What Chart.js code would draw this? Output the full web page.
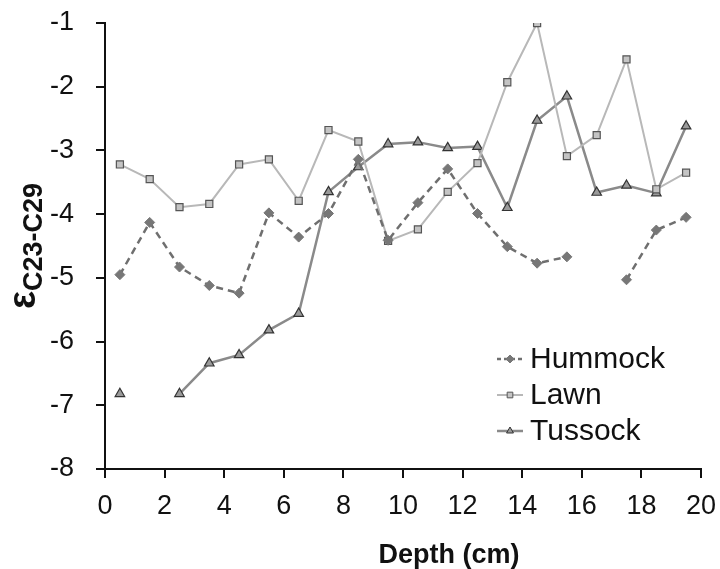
<!DOCTYPE html>
<html>
<head>
<meta charset="utf-8">
<script src="https://cdn.jsdelivr.net/npm/chart.js@4.4.0/dist/chart.umd.min.js"></script>
<style>
  body { margin: 0; background: #fff; }
  #wrap { width: 720px; height: 569px; }
</style>
</head>
<body>
<div id="wrap"><canvas id="myChart" width="720" height="569"></canvas></div>
<script>
// depth (cm) of each sample
const depth = [0.5, 1.5, 2.5, 3.5, 4.5, 5.5, 6.5, 7.5, 8.5, 9.5, 10.5, 11.5, 12.5, 13.5, 14.5, 15.5, 16.5, 17.5, 18.5, 19.5]
const hummock = [-4.95, -4.13, -4.83, -5.12, -5.24, -3.98, -4.36, -3.99, -3.14, -4.41, -3.82, -3.29, -3.99, -4.51, -4.77, -4.67, null, -5.03, -4.25, -4.05]
const lawn = [-3.22, -3.45, -3.89, -3.84, -3.22, -3.14, -3.79, -2.68, -2.86, -4.42, -4.24, -3.65, -3.20, -1.93, -1.00, -3.09, -2.76, -1.57, -3.61, -3.35]
const tussock = [-6.82, null, -6.82, -6.34, -6.21, -5.82, -5.56, -3.65, -3.26, -2.90, -2.87, -2.96, -2.94, -3.90, -2.53, -2.15, -3.66, -3.55, -3.67, -2.62]
const seriesNames = ['Hummock', 'Lawn', 'Tussock']
const xTitle = 'Depth (cm)'
const yTitleMain = 'ε'
const yTitleSub = 'C23-C29'

const font = '"Liberation Sans", Arial, Helvetica, sans-serif'

const toPoints = (vals) => depth.map((d, i) => ({ x: d, y: vals[i] }))

const datasets = [
  {
    label: seriesNames[0],
    data: toPoints(hummock),
    borderColor: '#6f6f6f',
    borderWidth: 2.5,
    borderDash: [7, 5],
    pointStyle: 'rectRot',
    pointRadius: 5,
    pointBackgroundColor: '#777777',
    pointBorderColor: '#777777',
    pointBorderWidth: 1
  },
  {
    label: seriesNames[1],
    data: toPoints(lawn),
    borderColor: '#b8b8b8',
    borderWidth: 2,
    pointStyle: 'rect',
    pointRadius: 5,
    pointBackgroundColor: '#c4c4c4',
    pointBorderColor: '#555555',
    pointBorderWidth: 1.2
  },
  {
    label: seriesNames[2],
    data: toPoints(tussock),
    borderColor: '#8a8a8a',
    borderWidth: 2.5,
    pointStyle: 'triangle',
    pointRadius: 5.5,
    pointBackgroundColor: '#9a9a9a',
    pointBorderColor: '#333333',
    pointBorderWidth: 1.2
  }
]

// legend drawn inside the plot, line sample + marker
const insideLegend = {
  id: 'insideLegend',
  afterDraw(chart) {
    const ctx = chart.ctx
    const x0 = 497, y0 = 359, rowH = 36
    ctx.save()
    chart.data.datasets.forEach((ds, i) => {
      const y = y0 + i * rowH
      ctx.beginPath()
      ctx.strokeStyle = ds.borderColor
      ctx.lineWidth = ds.borderWidth
      ctx.setLineDash(ds.borderDash ? [4, 3] : [])
      ctx.moveTo(x0, y)
      ctx.lineTo(x0 + 26, y)
      ctx.stroke()
      ctx.setLineDash([])
      ctx.fillStyle = ds.pointBackgroundColor
      ctx.strokeStyle = ds.pointBorderColor
      ctx.lineWidth = 1
      Chart.helpers.drawPoint(ctx, { pointStyle: ds.pointStyle, radius: 4, borderWidth: 1 }, x0 + 13, y)
      ctx.fillStyle = '#111'
      ctx.font = '30px ' + font
      ctx.textBaseline = 'middle'
      ctx.fillText(ds.label, x0 + 33, y + 1)
    })
    ctx.restore()
  }
}

// axis titles (y title has a subscript)
const axisTitles = {
  id: 'axisTitles',
  afterDraw(chart) {
    const ctx = chart.ctx
    const area = chart.chartArea
    ctx.save()
    ctx.fillStyle = '#111'
    ctx.textBaseline = 'alphabetic'
    ctx.font = 'bold 27px ' + font
    ctx.textAlign = 'center'
    ctx.fillText(xTitle, 449, 563)

    ctx.textAlign = 'left'
    const mainFont = 'bold 38px ' + font
    const subFont = 'bold 27px ' + font
    ctx.font = mainFont
    const w1 = ctx.measureText(yTitleMain).width
    ctx.font = subFont
    const w2 = ctx.measureText(yTitleSub).width
    const cy = (area.top + area.bottom) / 2
    ctx.translate(35, cy + (w1 + w2) / 2)
    ctx.rotate(-Math.PI / 2)
    ctx.font = mainFont
    ctx.fillText(yTitleMain, 0, 0)
    ctx.font = subFont
    ctx.fillText(yTitleSub, w1, 7)
    ctx.restore()
  }
}

const config = {
  type: 'line',
  data: { datasets: datasets },
  options: {
    responsive: false,
    animation: false,
    devicePixelRatio: 1,
    spanGaps: false,
    layout: { padding: { top: 23, right: 19, left: 0, bottom: 0 } },
    plugins: {
      legend: { display: false },
      tooltip: { enabled: false }
    },
    scales: {
      x: {
        type: 'linear',
        min: 0,
        max: 20,
        afterFit: (scale) => {
          scale.height = 100
          scale.paddingLeft = 0
          scale.paddingRight = 0
        },
        ticks: { stepSize: 2, color: '#111', font: { family: font, size: 27 }, padding: 12, maxRotation: 0 },
        grid: { drawOnChartArea: false, drawTicks: true, tickLength: 9, color: '#111', lineWidth: 2 },
        border: { display: true, color: '#111', width: 2 }
      },
      y: {
        min: -8,
        max: -1,
        afterFit: (scale) => {
          scale.width = 105
          scale.paddingTop = 0
          scale.paddingBottom = 0
        },
        ticks: { stepSize: 1, color: '#111', font: { family: font, size: 27 }, padding: 22 },
        grid: { drawOnChartArea: false, drawTicks: true, tickLength: 9, color: '#111', lineWidth: 2 },
        border: { display: true, color: '#111', width: 2 }
      }
    }
  },
  plugins: [insideLegend, axisTitles]
}

const myChart = new Chart(document.getElementById('myChart'), config)
</script>
</body>
</html>
